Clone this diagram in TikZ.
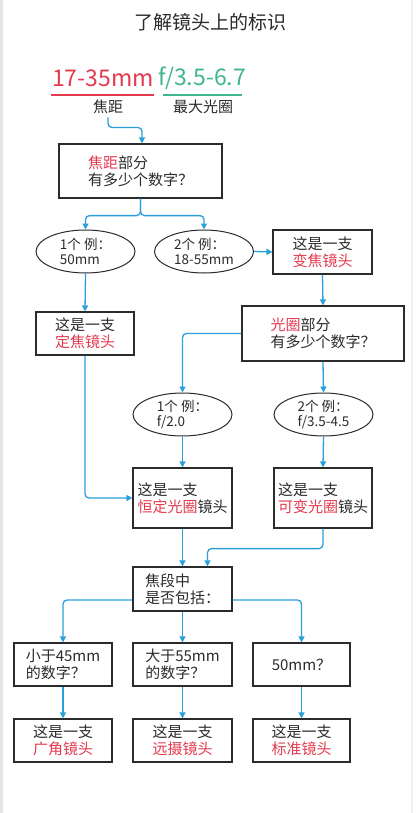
\documentclass[tikz,border=0pt]{standalone}
\usepackage{fontspec}
\setmainfont{Noto Sans CJK SC}
\usepackage{tikz}
\usepackage{xcolor}
\usetikzlibrary{arrows.meta,shapes.geometric}
\definecolor{hired}{HTML}{E33B4E}
\definecolor{higreen}{HTML}{3FB68B}
\definecolor{flow}{HTML}{2B9FD9}
\definecolor{ink}{HTML}{2B2B2B}
\newcommand{\hl}[1]{\textcolor{hired}{#1}}

\begin{document}
\begin{tikzpicture}[x=1pt,y=-1pt,
  box/.style={draw=ink,line width=1.2pt,text=ink,align=left,inner sep=0pt,font=\fontsize{15}{17}\selectfont},
  oval/.style={ellipse,draw=ink,line width=1pt,text=ink,align=left,inner sep=0pt,minimum width=99pt,minimum height=43pt,font=\fontsize{13.5}{15}\selectfont},
  arr/.style={flow,line width=1.3pt,rounded corners=4pt,-{Triangle[length=6pt,width=6pt]}}]
\useasboundingbox (0,0) rectangle (416,813);
\fill[white] (0,0) rectangle (416,813);
\draw[gray!20,line width=2.5pt] (1.5,0) -- (1.5,813);
\draw[gray!12,line width=2.5pt] (412,0) -- (412,813);

\node[text=ink,font=\fontsize{19}{21}\selectfont] (title) at (210,22) {了解镜头上的标识};
\node[text=hired,font=\fontsize{23}{25}\selectfont] (focal) at (103,78) {17-35mm};
\node[text=higreen,font=\fontsize{23}{25}\selectfont] (aper) at (202,78) {f/3.5-6.7};
\draw[hired,line width=1.2pt] (51,95) -- (154,95);
\draw[higreen,line width=1.2pt] (163,95) -- (242,95);
\node[text=ink,font=\fontsize{15}{17}\selectfont] (fl) at (108,107) {焦距};
\node[text=ink,font=\fontsize{15}{17}\selectfont] (al) at (203,107) {最大光圈};

\node[box,minimum width=163pt,minimum height=54pt] (q1) at (140.5,171) {\hl{焦距}部分\\有多少个数字？};
\node[oval] (e1) at (85.5,251.5) {1个 例：\\50mm};
\node[oval] (e2) at (204,251.5) {2个 例：\\18-55mm};
\node[box,align=center,minimum width=99pt,minimum height=44pt] (zoom) at (322.5,252) {这是一支\\\hl{变焦镜头}};
\node[box,align=center,minimum width=98pt,minimum height=43pt] (prime) at (85,333.5) {这是一支\\\hl{定焦镜头}};
\node[box,minimum width=162pt,minimum height=55pt] (q2) at (323,333.5) {\hl{光圈}部分\\有多少个数字？};
\node[oval] (e3) at (182.5,414.5) {1个 例：\\f/2.0};
\node[oval] (e4) at (323.5,414.5) {2个 例：\\f/3.5-4.5};
\node[box,minimum width=99pt,minimum height=60pt] (const) at (182.5,498) {这是一支\\\hl{恒定光圈}镜头};
\node[box,minimum width=98pt,minimum height=60pt] (vari) at (323,498) {这是一支\\\hl{可变光圈}镜头};
\node[box,minimum width=99pt,minimum height=44pt] (q3) at (182.5,589) {焦段中\\是否包括：};
\node[box,minimum width=98pt,minimum height=43pt] (lt) at (63,664.5) {小于45mm\\的数字？};
\node[box,minimum width=99pt,minimum height=43pt] (gt) at (182.5,664.5) {大于55mm\\的数字？};
\node[box,minimum width=97pt,minimum height=43pt] (eq) at (301.5,664.5) {50mm？};
\node[box,align=center,minimum width=98pt,minimum height=43pt] (wide) at (63,740.5) {这是一支\\\hl{广角镜头}};
\node[box,align=center,minimum width=99pt,minimum height=43pt] (tele) at (182.5,740.5) {这是一支\\\hl{远摄镜头}};
\node[box,align=center,minimum width=97pt,minimum height=43pt] (std) at (301.5,740.5) {这是一支\\\hl{标准镜头}};

\draw[arr] (fl.south) -- ++(0,10) -| ([xshift=1.5pt]q1.north);
\draw[arr] (q1.south) -- ++(0,17) -| (e1.north);
\draw[arr] (q1.south) -- ++(0,17) -| (e2.north);
\draw[arr] (e2.east) -- (zoom.west);
\draw[arr] (e1.south) -- (prime.north);
\draw[arr] (zoom.south) -- (q2.north);
\draw[arr] (q2.west) -| (e3.north);
\draw[arr] (q2.south) -- (e4.north);
\draw[arr] (e3.south) -- (const.north);
\draw[arr] (e4.south) -- (vari.north);
\draw[arr] (prime.south) |- (const.west);
\draw[arr] (const.south) -- (q3.north);
\draw[arr] (vari.south) -- ++(0,20) -| ([xshift=25pt]q3.north);
\draw[arr] ([yshift=-11pt]q3.west) -| (lt.north);
\draw[arr] (q3.south) -- (gt.north);
\draw[arr] ([yshift=-11pt]q3.east) -| (eq.north);
\draw[arr] (lt.south) -- (wide.north);
\draw[arr] (gt.south) -- (tele.north);
\draw[arr] (eq.south) -- (std.north);
\end{tikzpicture}
\end{document}
